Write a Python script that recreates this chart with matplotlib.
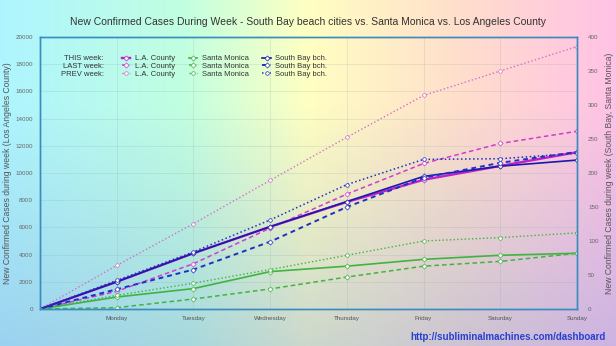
import numpy as np
import matplotlib
matplotlib.use("Agg")
from matplotlib import pyplot as plt
from matplotlib.lines import Line2D

plt.rcParams['font.family'] = ['Liberation Sans', 'DejaVu Sans']

# cumulative new cases, day 0 = start of week
days = ["", "Monday", "Tuesday", "Wednesday", "Thursday", "Friday", "Saturday", "Sunday"]
la_this = [0, 2000, 4100, 6050, 7870, 9500, 10520, 11530]
la_last = [0, 1300, 3330, 5950, 8450, 10700, 12170, 13070]
la_prev = [0, 3200, 6270, 9460, 12630, 15700, 17500, 19300]
sm_this = [0, 17.6, 30, 55, 63, 73, 79, 82]
sm_last = [0, 2, 14.7, 29.5, 47, 63, 70, 82]
sm_prev = [0, 20, 38, 58, 79, 100, 105, 112]
sb_this = [0, 40, 82, 121, 158, 195, 210, 219]
sb_last = [0, 29, 58, 99, 150, 193, 215, 231]
sb_prev = [0, 42, 84, 131, 183, 220, 221, 229]
weeks = ['THIS week:', 'LAST week:', 'PREV week:']
x = np.arange(len(days))

fig = plt.figure(figsize=(6.16, 3.46), dpi=100)

# pastel background
bg = fig.add_axes([0, 0, 1, 1], zorder=-10)
w, h = 400, 200
xs = np.linspace(0, 1, w)
stops = [0.0, 0.3, 0.5, 0.75, 1.0]
cols = np.array([[0.68, 0.96, 1.00],
                 [0.76, 1.00, 0.88],
                 [1.00, 1.00, 0.76],
                 [1.00, 0.87, 0.80],
                 [1.00, 0.76, 0.90]])
row = np.stack([np.interp(xs, stops, cols[:, i]) for i in range(3)], axis=-1)
ys = np.linspace(0, 1, h)[:, None, None]
wt = np.clip((ys - 0.3) / 0.7, 0, 1) * 0.40
shade = np.array([0.50, 0.62, 0.86])
img = row[None, :, :] * (1 - wt) + shade * wt
bg.imshow(img, aspect='auto', extent=[0, 1, 0, 1], origin='upper')
bg.axis('off')

ax = fig.add_axes([40/616, 1-309/346, 537/616, 272/346])
ax.set_facecolor('none')
ax2 = ax.twinx()

mag, mag2, pink = '#c020cc', '#d03cd0', '#d070c8'
blue, blue2 = '#1a1aa8', '#2030c0'
green = '#40b440'
mk = dict(markerfacecolor='white', markersize=2.6, markeredgewidth=0.5)

l1, = ax.plot(x, la_this, '-', color=mag, lw=1.7, marker='D', label='L.A. County', **mk)
l2, = ax.plot(x, la_last, '--', color=mag2, lw=1.1, dashes=(3, 2), marker='D', label='L.A. County', **mk)
l3, = ax.plot(x, la_prev, ':', color=pink, lw=1.0, marker='o', label='L.A. County', **mk)
s1, = ax2.plot(x, sm_this, '-', color=green, lw=1.2, marker='D', label='Santa Monica', **mk)
s2, = ax2.plot(x, sm_last, '--', color=green, lw=1.1, dashes=(3, 2), marker='D', label='Santa Monica', **mk)
s3, = ax2.plot(x, sm_prev, ':', color=green, lw=1.0, marker='o', label='Santa Monica', **mk)
b1, = ax2.plot(x, sb_this, '-', color=blue, lw=1.2, marker='D', label='South Bay bch.', **mk)
b2, = ax2.plot(x, sb_last, '--', color=blue2, lw=1.4, dashes=(2.5, 2), marker='D', label='South Bay bch.', **mk)
b3, = ax2.plot(x, sb_prev, ':', color=blue2, lw=1.1, marker='o', label='South Bay bch.', **mk)

ax.set_xlim(0, 7)
ax.set_ylim(0, 20000)
ax2.set_ylim(0, 400)
ax.set_xticks(x[1:])
ax.set_xticklabels(days[1:])
ax.set_yticks(np.arange(0, 20001, 2000))
ax2.set_yticks(np.arange(0, 401, 50))

ax.grid(True, color='#8aa0a0', alpha=0.22, lw=0.6)
ax.tick_params(axis='x', length=0, labelsize=4.5, colors='#555555', pad=5)
ax.tick_params(axis='y', length=0, labelsize=4.5, colors='#666666', pad=5)
ax2.tick_params(axis='y', length=0, labelsize=4.5, colors='#666666', pad=8)
for a in (ax, ax2):
    for sp in a.spines.values():
        sp.set_color('#3a8cc0')
        sp.set_linewidth(1.0)

ax.set_ylabel('New Confirmed Cases during week (Los Angeles County)', fontsize=6.2, color='#555555')
ax2.set_ylabel('New Confirmed Cases during week (South Bay, Santa Monica)', fontsize=6.2, color='#555555')
ax.yaxis.set_label_coords(-0.052, 0.5)
ax2.yaxis.set_label_coords(1.052, 0.5)

fig.text(308/616, 1-22/346, 'New Confirmed Cases During Week - South Bay beach cities vs. Santa Monica vs. Los Angeles County',
         ha='center', va='center', fontsize=7.5, color='#333333')
fig.text(606/616, 1-337/346, 'http://subliminalmachines.com/dashboard', ha='right', va='center',
         fontsize=7, fontweight='bold', color='#2a40d0')

# legend: first column holds the row names (reserved width, drawn right-aligned afterwards)
blank = Line2D([], [], linestyle='none')
handles = [blank, blank, blank, l1, l2, l3, s1, s2, s3, b1, b2, b3]
labels = ['PREV week:  '] * 3 + [h_.get_label() for h_ in handles[3:]]
leg = ax2.legend(handles, labels, ncol=4, loc='upper left', bbox_to_anchor=(0.009, 0.945),
                 borderaxespad=0, fontsize=5.5, labelspacing=0.05, handlelength=1.1,
                 handletextpad=0.6, columnspacing=1.8, borderpad=0.4, fancybox=False,
                 framealpha=0, edgecolor='#7a9a8a')
leg.get_frame().set_linewidth(0.7)
for t in leg.get_texts():
    t.set_color('#333333')

fig.canvas.draw()
inv = fig.transFigure.inverted()
ref = fig.text(0, 0, 'PREV week:', fontsize=5.5)
ref_w = ref.get_window_extent().width
ref.remove()
for t, name in zip(leg.get_texts()[:3], weeks):
    bb = t.get_window_extent()
    x1, yc = inv.transform((bb.x0 + ref_w, (bb.y0 + bb.y1) / 2))
    t.set_alpha(0)
    fig.text(x1, yc, name, ha='right', va='center', fontsize=5.5, color='#333333')

fig.savefig('out.png', dpi=100)
